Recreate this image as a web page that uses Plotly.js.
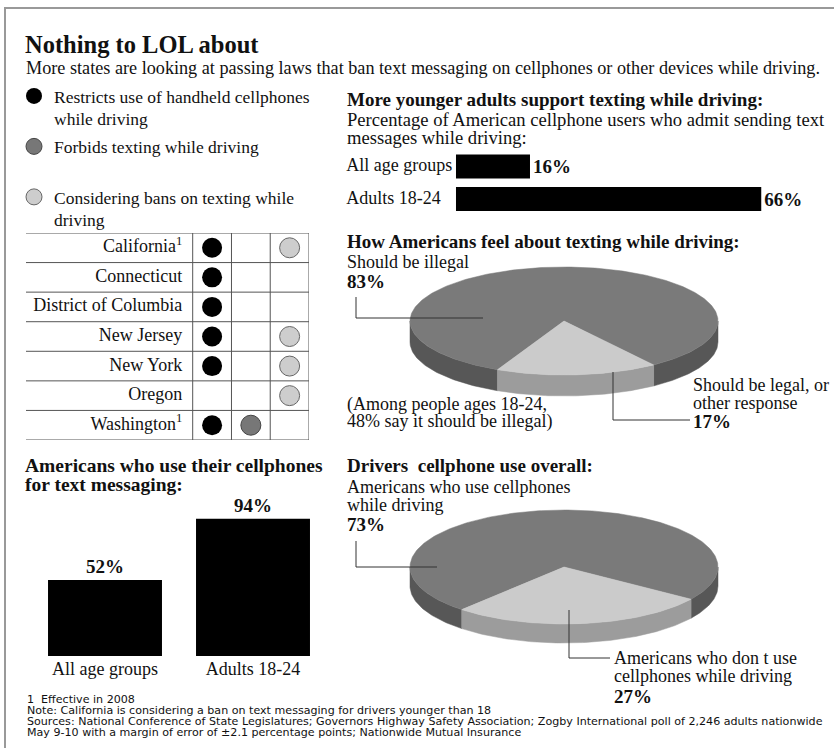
<!DOCTYPE html>
<html>
<head>
<meta charset="utf-8">
<script src="https://cdn.plot.ly/plotly-3.0.1.min.js"></script>
<style>html,body{margin:0;padding:0;background:#fff;}#chart{width:834px;height:748px;}</style>
</head>
<body>
<div id="chart"></div>
<script>
// ---------------- DATA ----------------
const states = ['California', 'Connecticut', 'District of Columbia', 'New Jersey', 'New York', 'Oregon', 'Washington'];
const stateFootnote = [1, 0, 0, 0, 0, 0, 1];
const restricts = [1, 1, 1, 1, 1, 0, 1];
const forbids = [0, 0, 0, 0, 0, 0, 1];
const considering = [1, 0, 0, 1, 1, 1, 0];
const legendNames = [
  'Restricts use of handheld cellphones<br>while driving',
  'Forbids texting while driving<br> ',
  'Considering bans on texting while<br>driving'
];

const ageGroups = ['All age groups', 'Adults 18-24'];
const textMessagingPct = [52, 94];      // use cellphones for text messaging
const textWhileDrivingPct = [16, 66];   // admit sending texts while driving

const feelLabels = ['Should be illegal', 'Should be legal, or|other response'];
const feelPct = [83, 17];
const youngIllegalPct = 48;

const useLabels = ['Americans who use cellphones|while driving', 'Americans who don t use|cellphones while driving'];
const usePct = [73, 27];

// ---------------- STYLE ----------------
const SERIF = '"Liberation Serif", "DejaVu Serif", serif';
const SANS = '"DejaVu Sans", "Liberation Sans", sans-serif';
const INK = '#111';
const W = 834, H = 748;
const BODY = 18, HEAD = 19;
const RX = 346; // left edge of right-hand column

const traces = [];

// ---- state table ----
const colX = [0.5, 1.5, 2.5];
const statusSets = [restricts, forbids, considering];
const statusStyle = [
  {color: '#000', line: {color: '#000', width: 0}},
  {color: '#777', line: {color: '#444', width: 1}},
  {color: '#cdcdcd', line: {color: '#666', width: 1}}
];
traces.push({
  type: 'scatter', mode: 'text', xaxis: 'x', yaxis: 'y',
  x: states.map(() => -0.27), y: states,
  text: states.map((s, i) => stateFootnote[i] ? s + '<sup>1</sup>' : s),
  textposition: 'middle left',
  textfont: {family: SERIF, size: 18, color: INK},
  showlegend: false, hoverinfo: 'skip', cliponaxis: false
});
statusSets.forEach((flags, k) => {
  const ys = states.filter((s, i) => flags[i]);
  traces.push({
    type: 'scatter', mode: 'markers', xaxis: 'x', yaxis: 'y',
    x: ys.map(() => colX[k]), y: ys,
    name: legendNames[k], legendgroup: 'g' + k, legendrank: k + 1,
    marker: {symbol: 'circle', size: 20, color: statusStyle[k].color, line: statusStyle[k].line},
    hoverinfo: 'skip', cliponaxis: false
  });
});

// ---- vertical bars: use cellphones for texting ----
traces.push({
  type: 'bar', xaxis: 'x2', yaxis: 'y2',
  x: ageGroups, y: textMessagingPct, width: 0.77,
  marker: {color: '#000'},
  text: textMessagingPct.map(v => v + '%'), textposition: 'outside',
  textfont: {family: SERIF, size: 19, color: INK, weight: 'bold'},
  cliponaxis: false, showlegend: false, hoverinfo: 'skip'
});

// ---- horizontal bars: texting while driving ----
traces.push({
  type: 'bar', orientation: 'h', xaxis: 'x3', yaxis: 'y3',
  y: ageGroups, x: textWhileDrivingPct, width: 0.74,
  marker: {color: '#000'},
  text: textWhileDrivingPct.map(v => v + '%'), textposition: 'outside',
  textfont: {family: SERIF, size: 19, color: INK, weight: 'bold'},
  cliponaxis: false, showlegend: false, hoverinfo: 'skip'
});
traces.push({
  type: 'scatter', mode: 'text', xaxis: 'x3', yaxis: 'y3',
  y: ageGroups, x: ageGroups.map(() => -23.7), text: ageGroups,
  textposition: 'middle right',
  textfont: {family: SERIF, size: BODY, color: INK},
  cliponaxis: false, showlegend: false, hoverinfo: 'skip'
});

// ---- 3-D pies (drawn on a pixel-scaled overlay axis) ----
function pie3d(vals, g, tops, sides) {
  const total = vals.reduce((a, b) => a + b, 0);
  const span = vals.map(v => v / total * 360);
  const start = g.mid - span[1] / 2;
  const ranges = [[start + span[1], start + 360], [start, start + span[1]]];
  const pt = (t, dy) => [g.cx + g.rx * Math.cos(t * Math.PI / 180), g.cy - g.ry * Math.sin(t * Math.PI / 180) + dy];
  const arc = (a, b, dy) => {
    const out = []; const n = Math.max(2, Math.ceil(Math.abs(b - a)));
    for (let i = 0; i <= n; i++) out.push(pt(a + (b - a) * i / n, dy));
    return out;
  };
  const out = [];
  ranges.forEach(([a, b], k) => {
    [[180, 360], [540, 720], [-180, 0]].forEach(([w0, w1]) => {
      const lo = Math.max(a, w0), hi = Math.min(b, w1);
      if (hi > lo) {
        const poly = arc(lo, hi, 0).concat(arc(hi, lo, g.depth));
        poly.push(poly[0]);
        out.push({type: 'scatter', mode: 'lines', xaxis: 'x4', yaxis: 'y4', fill: 'toself',
          x: poly.map(p => p[0]), y: poly.map(p => p[1]),
          fillcolor: sides[k], line: {color: sides[k], width: 0.5},
          showlegend: false, hoverinfo: 'skip'});
      }
    });
  });
  ranges.forEach(([a, b], k) => {
    const poly = [[g.cx, g.cy]].concat(arc(a, b, 0)); poly.push([g.cx, g.cy]);
    out.push({type: 'scatter', mode: 'lines', xaxis: 'x4', yaxis: 'y4', fill: 'toself',
      x: poly.map(p => p[0]), y: poly.map(p => p[1]),
      fillcolor: tops[k], line: {color: tops[k], width: 0.5},
      showlegend: false, hoverinfo: 'skip'});
  });
  return out;
}
const pieTop = ['#7a7a7a', '#cbcbcb'];
const pieSide = ['#575757', '#9c9c9c'];
traces.push(...pie3d(feelPct, {cx: 564, cy: 321, rx: 154, ry: 54, depth: 21, mid: 275}, pieTop, pieSide));
traces.push(...pie3d(usePct, {cx: 564, cy: 567, rx: 154, ry: 57, depth: 19, mid: 277}, pieTop, pieSide));

// ---------------- ANNOTATIONS ----------------
const ann = [];
function T(x, y, text, size, bold, fam) {
  ann.push({xref: 'x4', yref: 'y4', x: x, y: y, text: text, showarrow: false,
    xanchor: 'left', yanchor: 'middle', borderpad: 0,
    font: {family: fam || SERIF, size: size, color: INK, weight: bold ? 'bold' : 'normal'}});
}
T(25, 68, 'More states are looking at passing laws that ban text messaging on cellphones or other devices while driving.', 18.2);

T(RX, 99, 'More younger adults support texting while driving:', HEAD, true);
T(RX, 119, 'Percentage of American cellphone users who admit sending text', 18.6);
T(RX, 137, 'messages while driving:', 18.6);

T(RX, 241, 'How Americans feel about texting while driving:', HEAD, true);
T(RX, 262, feelLabels[0], BODY);
T(RX, 281, feelPct[0] + '%', 19, true);
T(RX, 404, '(Among people ages 18-24,', BODY);
T(RX, 421, youngIllegalPct + '% say it should be illegal)', BODY);
feelLabels[1].split('|').forEach((l, i) => T(692, 385 + i * 18, l, BODY));
T(692, 421, feelPct[1] + '%', 19, true);

T(24, 465, 'Americans who use their cellphones', 19.5, true);
T(24, 484, 'for text messaging:', 19.5, true);

T(RX, 465, 'Drivers  cellphone use overall:', HEAD, true);
useLabels[0].split('|').forEach((l, i) => T(RX, 487 + i * 18, l, BODY));
T(RX, 524, usePct[0] + '%', 19, true);
useLabels[1].split('|').forEach((l, i) => T(613, 658 + i * 18, l, BODY));
T(613, 696, usePct[1] + '%', 19, true);

T(26, 699, '1&nbsp;&nbsp;Effective in 2008', 11.1, false, SANS);
T(26, 710, 'Note: California is considering a ban on text messaging for drivers younger than 18', 11.1, false, SANS);
T(26, 721, 'Sources: National Conference of State Legislatures; Governors Highway Safety Association; Zogby International poll of 2,246 adults nationwide', 11.1, false, SANS);
T(26, 732, 'May 9-10 with a margin of error of \u00b12.1 percentage points; Nationwide Mutual Insurance', 11.1, false, SANS);

// ---------------- SHAPES ----------------
const shapes = [];
// frame
shapes.push({type: 'path', xref: 'x4', yref: 'y4', path: 'M5,748 L5,8 L834,8', line: {color: '#999', width: 2}});
// table grid
for (let i = 0; i <= states.length; i++) {
  shapes.push({type: 'line', xref: 'x', yref: 'y', x0: -4.3, x1: 3, y0: i - 0.5, y1: i - 0.5, line: {color: '#555', width: 1}});
}
for (let c = 0; c <= colX.length; c++) {
  shapes.push({type: 'line', xref: 'x', yref: 'y', x0: c, x1: c, y0: -0.5, y1: states.length - 0.5, line: {color: '#555', width: 1}});
}
// leader lines
const lead = ['M356,297 L356,318 L483,318', 'M613,372 L613,420 L690,420', 'M356,541 L356,567 L437,567', 'M569,610 L569,658 L610,658'];
lead.forEach(p => shapes.push({type: 'path', xref: 'x4', yref: 'y4', path: p, line: {color: '#333', width: 1}}));

const layout = {
  width: W, height: H,
  margin: {l: 0, r: 0, t: 0, b: 0},
  paper_bgcolor: '#fff', plot_bgcolor: 'rgba(0,0,0,0)',
  title: {text: 'Nothing to LOL about', x: 25 / W, xanchor: 'left', xref: 'paper', y: 1 - 44 / H, yanchor: 'middle', yref: 'paper',
    font: {family: SERIF, size: 24.5, color: INK, weight: 'bold'}},
  showlegend: true,
  legend: {x: 14 / W, y: 1 - 78 / H, xanchor: 'left', yanchor: 'top', bgcolor: 'rgba(0,0,0,0)',
    font: {family: SERIF, size: 17.5, color: INK}, tracegroupgap: 2, valign: 'top', traceorder: 'grouped', itemclick: false, itemdoubleclick: false},
  xaxis: {domain: [26 / W, 309 / W], range: [-4.3, 3], visible: false, fixedrange: true},
  yaxis: {domain: [1 - 440 / H, 1 - 233 / H], type: 'category', categoryarray: states, range: [states.length - 0.5, -0.5], visible: false, fixedrange: true},
  xaxis2: {domain: [31 / W, 327 / W], anchor: 'y2', type: 'category', showgrid: false, zeroline: false, showline: false, ticks: '',
    tickfont: {family: SERIF, size: 18, color: INK}, fixedrange: true},
  yaxis2: {domain: [1 - 656 / H, 1 - 510 / H], anchor: 'x2', range: [0, 100], visible: false, fixedrange: true},
  xaxis3: {domain: [RX / W, 826 / W], anchor: 'y3', range: [-23.78, 80], visible: false, fixedrange: true},
  yaxis3: {domain: [1 - 215.25 / H, 1 - 150.25 / H], anchor: 'x3', type: 'category', categoryarray: ageGroups, range: [1.5, -0.5], visible: false, fixedrange: true},
  xaxis4: {domain: [0, 1], anchor: 'y4', range: [0, W], visible: false, fixedrange: true},
  yaxis4: {domain: [0, 1], anchor: 'x4', range: [H, 0], visible: false, fixedrange: true},
  annotations: ann,
  shapes: shapes
};

Plotly.newPlot('chart', traces, layout, {displayModeBar: false, staticPlot: true});
</script>
</body>
</html>
